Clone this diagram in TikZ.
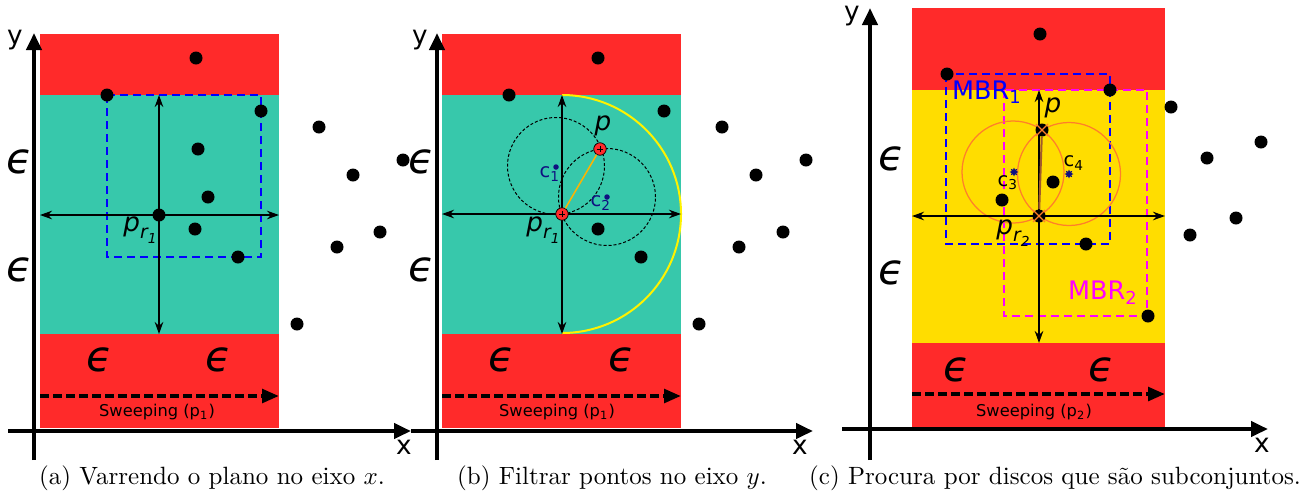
\documentclass[tikz,border=0pt]{standalone}
\usepackage{fontspec}
\usepackage{amsmath}
\usetikzlibrary{arrows.meta,shapes.geometric}
\newfontfamily\dejavu{DejaVu Sans}
\definecolor{bandred}{HTML}{FF2A2A}
\definecolor{bandteal}{HTML}{37C8AB}
\definecolor{bandgold}{HTML}{FFDD00}
\definecolor{cnavy}{HTML}{101080}
\definecolor{mbrblue}{HTML}{0000FF}
\definecolor{mbrpink}{HTML}{FF00FF}
\definecolor{diskorange}{HTML}{FF7F2A}
\definecolor{chordgold}{HTML}{FFB400}
\definecolor{chordbrown}{HTML}{A05A2C}
\newcommand{\prlab}[1]{{\dejavu\fontsize{10.5}{10.5}\selectfont\itshape p\raisebox{-0.45ex}{\fontsize{7.5}{7.5}\selectfont r\raisebox{-0.5ex}{\fontsize{5.5}{5.5}\selectfont #1}}}}
\newcommand{\sweeplab}[1]{{\dejavu\fontsize{6.5}{6.5}\selectfont Sweeping (p\textsubscript{#1})}}

\begin{document}
\begin{tikzpicture}[x=0.4pt, y=-0.4pt,
  axis/.style={line width=1.6pt, -{Triangle[length=6.8pt,width=6pt]}},
  cross/.style={line width=0.8pt, {Stealth[length=4.8pt,width=3.4pt]}-{Stealth[length=4.8pt,width=3.4pt]}},
  sweep/.style={line width=1.6pt, dash pattern=on 3.6pt off 1.6pt, -{Triangle[length=6.8pt,width=5.4pt]}},
  mbr/.style={line width=0.8pt, dash pattern=on 3.2pt off 2pt},
  disk/.style={line width=0.4pt, dash pattern=on 1.2pt off 0.8pt},
  pt/.style={circle, fill=black, inner sep=0pt, minimum size=5.2pt},
  redpt/.style={circle, fill=bandred, draw=black, line width=0.3pt, inner sep=0pt, minimum size=5pt},
  ctr/.style={circle, fill=cnavy, inner sep=0pt, minimum size=2.2pt},
  ctrstar/.style={star, star points=8, star point ratio=1.8, fill=cnavy, inner sep=0pt, minimum size=3.6pt},
  eps/.style={font=\dejavu\itshape\fontsize{17}{17}\selectfont, inner sep=0pt},
  axlab/.style={font=\dejavu\fontsize{10.5}{10.5}\selectfont, inner sep=0pt},
  clab/.style={font=\dejavu\fontsize{7.8}{7.8}\selectfont, inner sep=0pt},
  mbrlab/.style={font=\dejavu\fontsize{10.2}{10.2}\selectfont, inner sep=0pt}]
\useasboundingbox (0,0) rectangle (1313,495);

% (a) sweeping
\fill[bandred] (40,34) rectangle (279,428);
\fill[bandteal] (40,95) rectangle (279,334);
\draw[mbr, mbrblue] (107,95) rectangle (261,257);
\draw[cross] (40,215) -- (279,215);
\draw[cross] (159,95) -- (159,334);
\foreach \x/\y [count=\i] in {196/58, 107/95, 261/111, 319/127, 198/149, 403/160, 353/175,
  208/197, 195/229, 380/232, 337/247, 238/257, 297/324}
  \node[pt] (a\i) at (\x,\y) {};
\node[pt] (apr) at (159,215) {};
\node (aprlab) at (140,230) {\prlab{1}};
\node[eps] (ae1) at (20,162) {ϵ};
\node[eps] (ae2) at (20,270) {ϵ};
\node[eps] (ae3) at (100,360) {ϵ};
\node[eps] (ae4) at (219,360) {ϵ};
\draw[sweep] (40,396) -- (279,396);
\node (asw) at (157,412) {\sweeplab{1}};
\draw[axis] (34,460) -- (34,33);
\draw[axis] (8,431) -- (411,431);
\node[axlab] (ay) at (15,40) {y};
\node[axlab] (ax) at (404,447) {x};
\node (acap) at (212,478) {(a) Varrendo o plano no eixo $x$.};

% (b) filtering
\fill[bandred] (442,34) rectangle (681,428);
\fill[bandteal] (442,95) rectangle (681,334);
\draw[yellow, line width=0.8pt] (562,95) arc[start angle=90, end angle=-90, radius=47.6pt];
\draw[disk] (556,166) circle[radius=19.4pt];
\draw[disk] (607,197) circle[radius=19.4pt];
\draw[cross] (442,214) -- (681,214);
\draw[cross] (562,95) -- (562,334);
\foreach \x/\y [count=\i] in {598/58, 509/95, 664/111, 722/127, 806/160, 756/175,
  598/229, 783/232, 739/247, 641/257, 699/324}
  \node[pt] (b\i) at (\x,\y) {};
\node[redpt] (bpr) at (562,214) {};
\node[redpt] (bp) at (600,149) {};
\draw[chordgold, line width=0.6pt] (bpr) -- (bp);
\draw[line width=0.3pt] (559,214) -- (565,214) (562,211) -- (562,217);
\draw[line width=0.3pt] (597,149) -- (603,149) (600,146) -- (600,152);
\node[ctr] (bc1) at (556,167) {};
\node[ctr] (bc2) at (607,197) {};
\node[clab, text=cnavy] (bc1lab) at (550,174) {c\textsubscript{1}};
\node[clab, text=cnavy] (bc2lab) at (601,203) {c\textsubscript{2}};
\node (bplab) at (603,126) {\dejavu\fontsize{10.5}{10.5}\selectfont\itshape p};
\node (bprlab) at (543,230) {\prlab{1}};
\node[eps] (be1) at (422,162) {ϵ};
\node[eps] (be2) at (422,270) {ϵ};
\node[eps] (be3) at (502,360) {ϵ};
\node[eps] (be4) at (622,360) {ϵ};
\draw[sweep] (442,396) -- (681,396);
\node (bsw) at (557,412) {\sweeplab{1}};
\draw[axis] (437,460) -- (437,33);
\draw[axis] (411,431) -- (813,431);
\node[axlab] (by) at (420,40) {y};
\node[axlab] (bx) at (800,447) {x};
\node (bcap) at (612,478) {(b) Filtrar pontos no eixo $y$.};

% (c) subsets
\fill[bandred] (912,8) rectangle (1165,427);
\fill[bandgold] (912,90) rectangle (1165,343);
\draw[mbr, mbrblue] (946,74) rectangle (1110,244);
\draw[mbr, mbrpink] (1004,90) rectangle (1147,316);
\node[mbrlab, text=mbrblue] (cm1) at (987,92) {MBR\textsubscript{1}};
\node[mbrlab, text=mbrpink] (cm2) at (1103,293) {MBR\textsubscript{2}};
\draw[diskorange, line width=0.5pt] (1013,172) circle[radius=20.4pt];
\draw[diskorange, line width=0.5pt] (1069,174) circle[radius=20.6pt];
\draw[cross] (912,216) -- (1165,216);
\draw[cross] (1039,90) -- (1039,343);
\foreach \x/\y [count=\i] in {1040/34, 947/74, 1110/90, 1171/107, 1261/142, 1207/158,
  1053/182, 1002/200, 1236/218, 1190/235, 1086/244, 1148/316}
  \node[pt] (c\i) at (\x,\y) {};
\node[pt] (cpr) at (1039,216) {};
\node[pt] (cp) at (1042,130) {};
\draw[chordbrown, line width=0.8pt] (cpr) -- (cp);
\draw[diskorange, line width=0.5pt] (1033,210) -- (1045,222) (1033,222) -- (1045,210);
\draw[diskorange, line width=0.5pt] (1036,124) -- (1048,136) (1036,136) -- (1048,124);
\node[ctrstar] (cc3) at (1014,172) {};
\node[ctrstar] (cc4) at (1069,174) {};
\node[clab] (cc3lab) at (1008,183) {c\textsubscript{3}};
\node[clab] (cc4lab) at (1074,163) {c\textsubscript{4}};
\node (cplab) at (1053,108) {\dejavu\fontsize{10.5}{10.5}\selectfont\itshape p};
\node (cprlab) at (1013,233) {\prlab{2}};
\node[eps] (ce1) at (892,159) {ϵ};
\node[eps] (ce2) at (892,273) {ϵ};
\node[eps] (ce3) at (957,370) {ϵ};
\node[eps] (ce4) at (1102,370) {ϵ};
\draw[sweep] (912,394) -- (1165,394);
\node (csw) at (1034,412) {\sweeplab{2}};
\draw[axis] (870,460) -- (870,8);
\draw[axis] (842,429) -- (1268,429);
\node[axlab] (cy) at (852,16) {y};
\node[axlab] (cx) at (1262,445) {x};
\node (ccap) at (1055,478) {(c) Procura por discos que são subconjuntos.};
\end{tikzpicture}
\end{document}
